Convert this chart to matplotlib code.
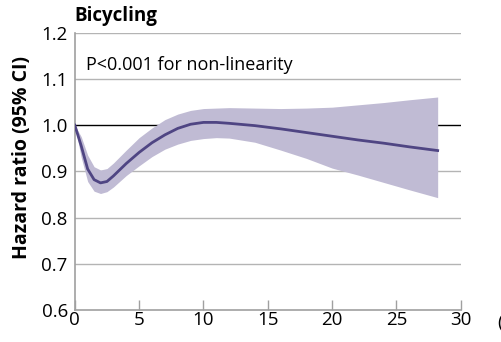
import matplotlib
matplotlib.use("Agg")
import matplotlib.pyplot as plt

plt.rcParams['font.family'] = ['Open Sans', 'DejaVu Sans']

# Spline estimate of hazard ratio for hours of bicycling, with 95% CI
hours = [0, 0.5, 1.0, 1.5, 2.0, 2.5, 3.0, 4.0, 5.0, 6.0, 7.0, 8.0, 9.0,
         10.0, 11.0, 12.0, 14.0, 16.0, 18.0, 20.0, 22.0, 24.0, 26.0, 28.2]
hr = [1.000, 0.955, 0.905, 0.882, 0.875, 0.878, 0.890, 0.917, 0.941, 0.962,
      0.979, 0.993, 1.002, 1.006, 1.006, 1.004, 0.999, 0.992, 0.984, 0.976,
      0.968, 0.961, 0.953, 0.945]
ci_low = [1.000, 0.930, 0.878, 0.857, 0.852, 0.856, 0.866, 0.891, 0.912,
          0.932, 0.948, 0.959, 0.967, 0.971, 0.973, 0.972, 0.963, 0.946,
          0.928, 0.907, 0.892, 0.876, 0.860, 0.843]
ci_high = [1.000, 0.975, 0.935, 0.910, 0.903, 0.906, 0.918, 0.946, 0.973,
           0.994, 1.012, 1.024, 1.032, 1.036, 1.037, 1.038, 1.037, 1.036,
           1.037, 1.039, 1.044, 1.049, 1.055, 1.061]

x_ticks = [0, 5, 10, 15, 20, 25, 30]
y_ticks = [0.6, 0.7, 0.8, 0.9, 1.0, 1.1, 1.2]

fig = plt.figure(figsize=(5.02, 3.42), dpi=100)
ax = fig.add_axes([0.149, 0.094, 0.769, 0.81])

# gridlines
for y in y_ticks[1:]:
    if y == 1.0:
        ax.axhline(y, color='black', lw=1.0, zorder=2)
    else:
        ax.axhline(y, color='#b4b4b4', lw=1.0, zorder=1)

ax.fill_between(hours, ci_low, ci_high, color='#c0bbd4', lw=0, zorder=3)
ax.plot(hours, hr, color='#4f4583', lw=2.0, zorder=4)

ax.set_xlim(0, 30)
ax.set_ylim(0.6, 1.2)
ax.set_xticks(x_ticks)
ax.set_yticks(y_ticks)
ax.set_xticklabels([str(t) for t in x_ticks])
ax.set_yticklabels([f'{t:.1f}' for t in y_ticks])
ax.tick_params(axis='x', direction='in', length=7, width=1, color='#a0a0a0',
               labelsize=13.5, pad=1)
ax.tick_params(axis='y', length=0, labelsize=13.5, pad=5)

for side in ['top', 'right']:
    ax.spines[side].set_visible(False)
for side in ['left', 'bottom']:
    ax.spines[side].set_color('#a0a0a0')
    ax.spines[side].set_linewidth(1.2)

ax.set_ylabel('Hazard ratio (95% CI)', fontsize=14, fontweight='bold')
ax.yaxis.set_label_coords(-0.149 + 15 / 386, 0.55)
ax.text(0, 1.025, 'Bicycling', transform=ax.transAxes, fontsize=13.5,
        fontweight='bold', ha='left', va='bottom')
ax.text(0.028, 0.885, 'P<0.001 for non-linearity', transform=ax.transAxes,
        fontsize=13, ha='left', va='center')
fig.text(0.99, 0.055, '(', fontsize=13.5, ha='left', va='center')

fig.savefig('out.png', dpi=100)
